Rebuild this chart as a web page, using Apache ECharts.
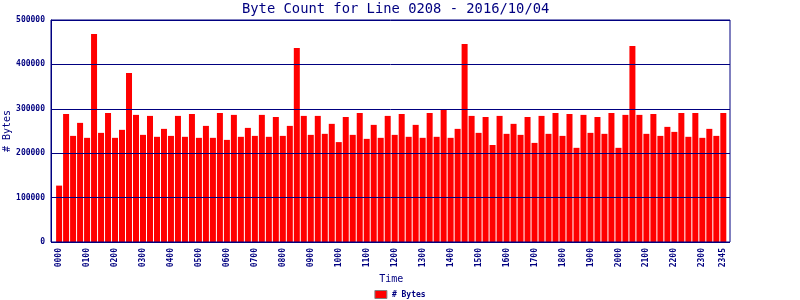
<!DOCTYPE html>
<html>
<head>
<meta charset="utf-8">
<script src="https://cdn.jsdelivr.net/npm/echarts@6/dist/echarts.min.js"></script>
<style>html,body{margin:0;padding:0;background:#fff;}#c{width:800px;height:300px;}</style>
</head>
<body>
<div id="c"></div>
<script>
const titleText = 'Byte Count for Line 0208 - 2016/10/04';
const seriesName = '# Bytes';
const yTicks = [0, 100000, 200000, 300000, 400000, 500000];
const times = [];
for (let h = 0; h < 24; h++) {
  for (const m of ['00', '15', '30', '45']) times.push(String(h).padStart(2, '0') + m);
}
const bytes = [
  127000, 288500, 239000, 268300, 234600, 468500, 245800, 290800,
  234600, 252600, 380600, 286300, 241300, 284000, 236900, 254800,
  239000, 284000, 236900, 288500, 234600, 261500, 234600, 290800,
  230000, 286300, 236900, 257000, 239000, 286300, 236900, 281600,
  239000, 261500, 436900, 284000, 241300, 284000, 243600, 266100,
  225000, 281600, 241300, 290800, 232300, 263800, 234600, 284000,
  241300, 288500, 236900, 263800, 234600, 290800, 236900, 299800,
  234600, 254800, 446000, 284000, 245800, 281600, 218500, 284000,
  243600, 266100, 241300, 281600, 223200, 284000, 243600, 290800,
  239000, 288500, 212100, 286300, 245800, 281600, 243600, 290800,
  212100, 286300, 441500, 286300, 243600, 288500, 239000, 259300,
  248000, 290800, 236900, 290800, 234600, 254800, 239000, 290800
];

const navy = '#000080';
const mono = 'DejaVu Sans Mono';
const chart = echarts.init(document.getElementById('c'), null, {renderer: 'canvas'});
chart.setOption({
  animation: false,
  backgroundColor: '#fff',
  title: {
    text: titleText, left: 242, top: 1, padding: 0,
    textStyle: {fontFamily: mono, fontSize: 13.8, fontWeight: 'normal', color: navy, lineHeight: 16}
  },
  legend: {
    data: [seriesName], left: 'center', top: 290, padding: 0,
    itemWidth: 12, itemHeight: 8, itemGap: 5,
    icon: 'rect',
    itemStyle: {borderColor: '#808080', borderWidth: 1},
    textStyle: {fontFamily: mono, fontSize: 8, fontWeight: 'bold', color: navy, lineHeight: 8}
  },
  grid: [
    {left: 51, right: 70, top: 20, bottom: 58, show: true, borderColor: navy, borderWidth: 1, z: 5,
     backgroundColor: 'transparent', containLabel: false, outerBoundsMode: 'none'},
    {left: 55.6, right: 73.2, top: 20, bottom: 58, containLabel: false, outerBoundsMode: 'none'}
  ],
  xAxis: [
    {type: 'value', gridIndex: 0, show: false, min: 0, max: 1},
    {
      type: 'category', gridIndex: 1, data: times,
      axisLine: {show: false}, axisTick: {show: false},
      name: 'Time', nameLocation: 'middle', nameGap: 32, nameMoveOverlap: false,
      nameTextStyle: {fontFamily: mono, fontSize: 10, color: navy},
      axisLabel: {
        rotate: 90, margin: 6, color: navy, fontFamily: mono, fontSize: 8, fontWeight: 'bold',
        hideOverlap: false,
        interval: (idx) => idx % 4 === 0 || idx === times.length - 1
      }
    }
  ],
  yAxis: [
    {
      type: 'value', gridIndex: 0, min: yTicks[0], max: yTicks[yTicks.length - 1], interval: yTicks[1] - yTicks[0],
      z: 5,
      axisLine: {show: true, lineStyle: {color: navy, width: 1}},
      axisTick: {show: false},
      splitLine: {show: true, lineStyle: {color: navy, width: 1}},
      axisLabel: {margin: 6, color: navy, fontFamily: mono, fontSize: 8, fontWeight: 'bold',
        showMinLabel: true, showMaxLabel: true, hideOverlap: false,
        formatter: (v) => String(v)},
      name: seriesName, nameLocation: 'middle', nameGap: 39, nameMoveOverlap: false,
      nameTextStyle: {fontFamily: mono, fontSize: 10, color: navy}
    },
    {type: 'value', gridIndex: 1, min: yTicks[0], max: yTicks[yTicks.length - 1], show: false}
  ],
  series: [{
    name: seriesName, type: 'bar', xAxisIndex: 1, yAxisIndex: 1,
    data: bytes, barWidth: 6, itemStyle: {color: '#ff0000'}, z: 2
  }]
});
</script>
</body>
</html>
